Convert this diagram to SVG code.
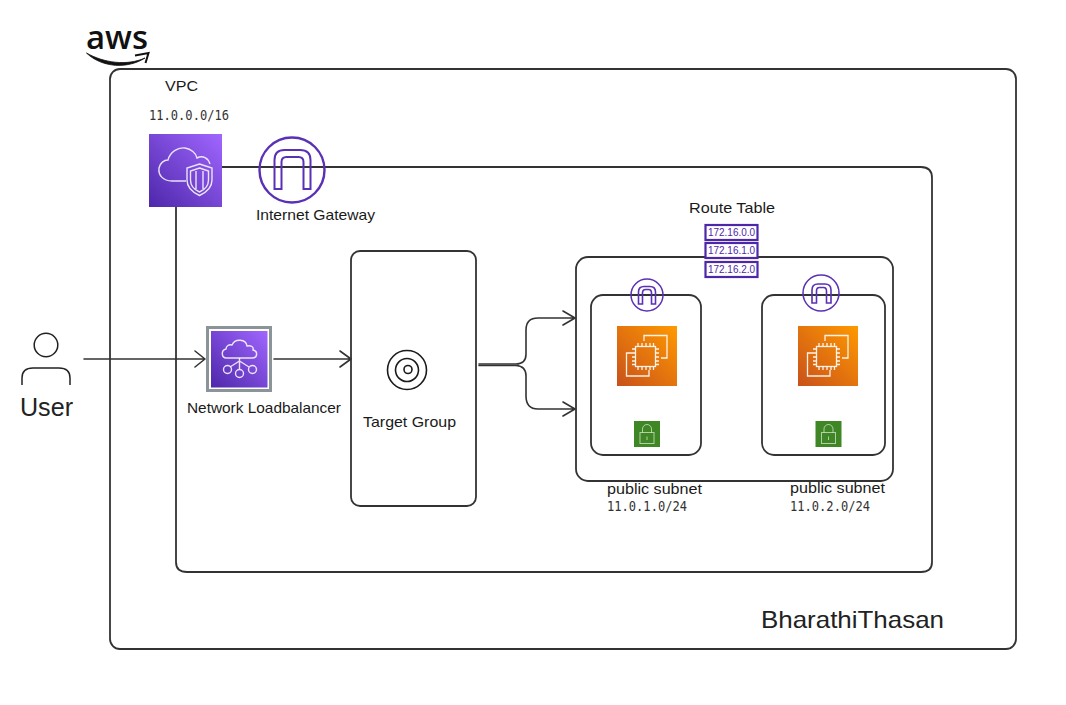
<svg xmlns="http://www.w3.org/2000/svg" width="1066" height="705" viewBox="0 0 1066 705">
<style>
.box{fill:none;stroke:#333;stroke-width:1.8}
.conn{fill:none;stroke:#333;stroke-width:1.6;stroke-linecap:round;stroke-linejoin:round}
.t{font-family:"Liberation Sans",Arial,sans-serif;font-size:14.5px;fill:#1a1a1a}
.m{font-family:"DejaVu Sans Mono","Liberation Mono",monospace;font-size:13.5px;fill:#333}
.ic{fill:none;stroke:#fff;stroke-width:1.4;stroke-opacity:.85}
.ig{fill:none;stroke:#5a30b5;stroke-width:1.6}
.rt{fill:#fff;stroke:#4d27aa;stroke-width:2.2}
.rtt{font-family:"Liberation Sans",Arial,sans-serif;font-size:10px;fill:#4d27aa;text-anchor:middle}
.blk{fill:none;stroke:#1a1a1a;stroke-width:1.6}
.chip{fill:none;stroke:#fff;stroke-width:1.3;stroke-opacity:.9}
</style>
<defs>
<linearGradient id="pur" x1="0" y1="1" x2="1" y2="0"><stop offset="0" stop-color="#4d27aa"/><stop offset="1" stop-color="#a166ff"/></linearGradient>
<linearGradient id="org" x1="0" y1="1" x2="1" y2="0"><stop offset="0" stop-color="#c8511b"/><stop offset="1" stop-color="#f90"/></linearGradient>
<g id="ec2">
<rect width="60" height="60" fill="url(#org)"/>
<path class="chip" d="M27 15V9.500H50V32H44M15 27H9.500V50H32V44"/>
<rect class="chip" x="18.500" y="20.500" width="20" height="20"/>
<path class="chip" d="M21 17v3.500M25 17v3.500M29 17v3.500M33 17v3.500M36.500 17v3.500M21 40.500v3.500M25 40.500v3.500M29 40.500v3.500M33 40.500v3.500M36.500 40.500v3.500M15 23h3.500M15 27h3.500M15 31h3.500M15 35h3.500M15 38.500h3.500M38.500 23h3.500M38.500 27h3.500M38.500 31h3.500M38.500 35h3.500M38.500 38.500h3.500"/>
</g>
<g id="lock">
<rect width="26" height="26" fill="#3f8624"/>
<rect x="6" y="11.500" width="14" height="11" fill="none" stroke="#fff" stroke-opacity=".6" stroke-width="1"/>
<path d="M8.500 11.500V8A4.500 4.500 0 0 1 17.500 8V11.500M13 15.500v3.500" fill="none" stroke="#fff" stroke-opacity=".6" stroke-width="1"/>
</g>
</defs>

<g id="aws-logo">
<text x="86" y="49" font-family="'Open Sans','Liberation Sans',sans-serif" font-weight="600" font-size="33" fill="#111" textLength="62" lengthAdjust="spacingAndGlyphs">aws</text>
<path d="M86.500 53C104 63 127 66 145 58C128 69 102 68 86.500 53Z" fill="#111" stroke="#111" stroke-width=".8"/>
<path d="M135 55.500L148.500 53L145.500 63" fill="none" stroke="#111" stroke-width="2"/>
</g>

<g id="connectors">
<path class="conn" d="M84 359H204M195 351L205 359L195 367"/>
<path class="conn" d="M274 359H350M340 351L351 359L340 367"/>
<path class="conn" d="M479 364H516Q526 364 526 354V330Q526 318 538 318H574M563 311L575 318L563 325"/>
<path class="conn" d="M479 365.500H516Q526 366 526 376V396Q526 409 538 409H574M563 402L575 409L563 416"/>
</g>

<g id="aws-cloud"><rect class="box" x="110" y="69" width="906" height="580" rx="10"/></g>
<g id="vpc-box"><path class="box" d="M222 167H921Q932 167 932 178V562Q932 572 921 572H187Q176 572 176 562V207"/></g>

<g id="vpc">
<rect x="149" y="134" width="73" height="73" fill="url(#pur)"/>
<path class="ic" d="M186 181H172C163 181 158 175 159 168C160 163 164 160 168 160C170 152 178 147 185 148C191 149 196 153 197 158C203 155 208 158 210 164"/>
<path class="ic" d="M199.500 164L212 168V180C212 188 205 193 199.500 195.500C194 193 187 188 187 180V168ZM199.500 168L208.500 171V180C208.500 186 204 190 199.500 192C195 190 190.500 186 190.500 180V171ZM196 171V189M203 171V189"/>
<text class="t" x="165" y="91" textLength="33" lengthAdjust="spacingAndGlyphs">VPC</text>
<text class="m" x="149" y="120" textLength="80" lengthAdjust="spacingAndGlyphs">11.0.0.0/16</text>
</g>

<g id="internet-gateway">
<circle cx="292" cy="170" r="32.500" fill="none" stroke="#5a30b5" stroke-width="2.400"/>
<path d="M274.500 189V160Q274.500 150 284.500 150H300Q310.500 150 310.500 160V189H303.500V162Q303.500 157 298.500 157H286.500Q281.500 157 281.500 162V189Z" fill="none" stroke="#5a30b5" stroke-width="2"/>
<text class="t" x="256" y="220" textLength="119" lengthAdjust="spacingAndGlyphs">Internet Gateway</text>
</g>

<g id="user">
<circle cx="46" cy="345" r="11.800" fill="none" stroke="#222" stroke-width="1.500"/>
<path d="M22 385V378Q22 368 33 368H59Q70 368 70 378V385" fill="none" stroke="#222" stroke-width="1.500"/>
<text x="20" y="416" font-family="'Liberation Sans',Arial,sans-serif" font-size="25" fill="#222" textLength="53" lengthAdjust="spacingAndGlyphs">User</text>
</g>

<g id="network-loadbalancer">
<rect x="207.500" y="327.500" width="63" height="63" fill="#fff" stroke="#8a9499" stroke-width="3"/>
<rect x="211" y="331" width="56.500" height="56.500" fill="url(#pur)"/>
<path class="ic" d="M226.500 358C221 358 221 350 226 349C226 346 229 344 232 345C235 338 246 339 247 346C251 345 254 347 253 350C258 351 258 358 252 358Z"/>
<path class="ic" d="M239.500 358V369M239.500 361L230 367M239.500 361L249 367"/>
<circle class="ic" cx="227.500" cy="369.500" r="4"/><circle class="ic" cx="239.500" cy="373.500" r="4"/><circle class="ic" cx="252.500" cy="369.500" r="4"/>
<text class="t" x="187" y="413" textLength="154" lengthAdjust="spacingAndGlyphs">Network Loadbalancer</text>
</g>

<g id="target-group">
<rect class="box" x="351" y="251" width="125" height="255" rx="9"/>
<circle class="blk" cx="407" cy="370" r="19.500"/><circle class="blk" cx="407" cy="370" r="11.500"/><circle class="blk" cx="408" cy="369.500" r="4"/>
<text class="t" x="363" y="427" textLength="93" lengthAdjust="spacingAndGlyphs">Target Group</text>
</g>

<g id="route-table-group"><rect class="box" x="576" y="257" width="317" height="224" rx="12"/></g>

<g id="subnet-1">
<rect class="box" x="591" y="295" width="110" height="160" rx="12"/>
<circle cx="647" cy="295" r="16" fill="none" stroke="#5a30b5" stroke-width="1.500"/>
<path d="M638.500 304V292Q638.500 286.500 644 286.500H650Q655.500 286.500 655.500 292V304H651.500V293Q651.500 289.500 648.500 289.500H645.500Q642.500 289.500 642.500 293V304Z" class="ig"/>
<use href="#ec2" x="617" y="326"/>
<use href="#lock" x="634" y="421"/>
<text class="t" x="607" y="494" textLength="95" lengthAdjust="spacingAndGlyphs">public subnet</text>
<text class="m" x="607" y="511" textLength="80" lengthAdjust="spacingAndGlyphs">11.0.1.0/24</text>
</g>

<g id="subnet-2">
<rect class="box" x="762" y="295" width="123" height="160" rx="12"/>
<circle cx="821" cy="293" r="18" fill="none" stroke="#5a30b5" stroke-width="1.500"/>
<path d="M812 303V290Q812 284 818 284H825Q831 284 831 290V303H826.500V291Q826.500 287.500 823.500 287.500H819.500Q816.500 287.500 816.500 291V303Z" class="ig"/>
<use href="#ec2" x="798" y="326"/>
<use href="#lock" x="815.500" y="421"/>
<text class="t" x="790" y="493" textLength="95" lengthAdjust="spacingAndGlyphs">public subnet</text>
<text class="m" x="790" y="511" textLength="80" lengthAdjust="spacingAndGlyphs">11.0.2.0/24</text>
</g>

<g id="route-table">
<text class="t" x="689" y="213" textLength="86" lengthAdjust="spacingAndGlyphs">Route Table</text>
<rect class="rt" x="705.500" y="225" width="52" height="15"/><text class="rtt" x="731.500" y="236" textLength="47" lengthAdjust="spacingAndGlyphs">172.16.0.0</text>
<rect class="rt" x="705.500" y="243" width="52" height="15"/><text class="rtt" x="731.500" y="254" textLength="47" lengthAdjust="spacingAndGlyphs">172.16.1.0</text>
<rect class="rt" x="705.500" y="262" width="52" height="15"/><text class="rtt" x="731.500" y="273" textLength="47" lengthAdjust="spacingAndGlyphs">172.16.2.0</text>
</g>

<g id="owner"><text x="761" y="628" font-family="'Liberation Sans',Arial,sans-serif" font-size="24" fill="#222" textLength="183" lengthAdjust="spacingAndGlyphs">BharathiThasan</text></g>
</svg>
